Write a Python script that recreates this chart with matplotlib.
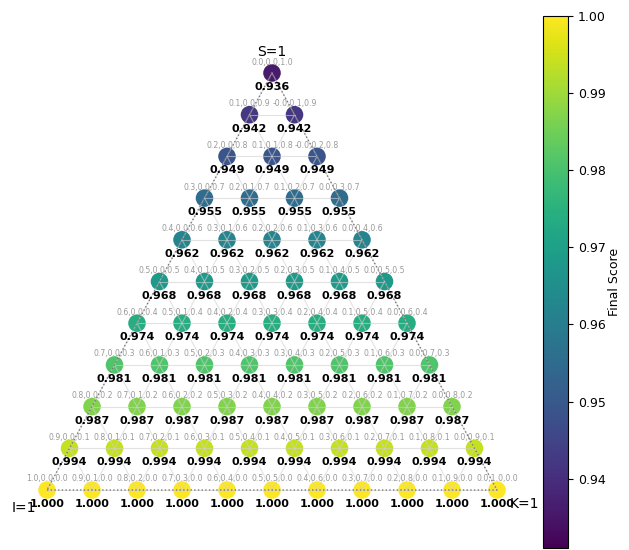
import numpy as np
import matplotlib
matplotlib.use("Agg")
import matplotlib.pyplot as plt
from matplotlib.colors import Normalize

# S weight per row (top to bottom) and the final score reached on that row
s_levels = [1.0, 0.9, 0.8, 0.7, 0.6, 0.5, 0.4, 0.3, 0.2, 0.1, 0.0]
row_scores = [0.936, 0.942, 0.949, 0.955, 0.962, 0.968, 0.974, 0.981, 0.987, 0.994, 1.000]
corner_labels = ["I=1", "K=1", "S=1"]
cbar_ticks = [0.94, 0.95, 0.96, 0.97, 0.98, 0.99, 1.00]
cbar_range = (0.931, 1.0)

H = np.sqrt(3) / 2
PX = 450.0      # pixels per unit along x
PY = 481.5      # pixels per unit along y


def to_xy(i, k, s):
    return k + s / 2.0, s * H


# build the simplex grid (I, K, S) with 0.1 steps
pts = []
for row, s in enumerate(s_levels):
    n = int(round((1 - s) * 10))
    for j in range(n + 1):
        k = j / 10.0
        i = round(1 - s - k, 1)
        pts.append((i, k, s, row_scores[row]))

fig = plt.figure(figsize=(6.29, 5.5), dpi=100)
ax = fig.add_axes([0, 0, 530 / 629, 1])
ax.set_xlim(-47 / PX, (530 - 47) / PX)
ax.set_ylim((490 - 550) / PY, 490 / PY)
ax.axis("off")

norm = Normalize(*cbar_range)
cmap = plt.get_cmap("viridis")

# light triangular grid lines
grid_kw = dict(color="#d0d0d0", lw=0.8, alpha=0.6, zorder=3)
for t in np.round(np.arange(0, 1.01, 0.1), 1):
    # constant S
    x0, y0 = to_xy(1 - t, 0, t)
    x1, y1 = to_xy(0, 1 - t, t)
    ax.plot([x0, x1], [y0, y1], **grid_kw)
    # constant K
    x0, y0 = to_xy(1 - t, t, 0)
    x1, y1 = to_xy(0, t, 1 - t)
    ax.plot([x0, x1], [y0, y1], **grid_kw)
    # constant I
    x0, y0 = to_xy(t, 1 - t, 0)
    x1, y1 = to_xy(t, 0, 1 - t)
    ax.plot([x0, x1], [y0, y1], **grid_kw)

xs = [to_xy(i, k, s)[0] for i, k, s, _ in pts]
ys = [to_xy(i, k, s)[1] for i, k, s, _ in pts]
cs = [v for *_, v in pts]
sc = ax.scatter(xs, ys, c=cs, cmap=cmap, norm=norm, s=160, zorder=2,
                edgecolors="none")

# dotted triangle outline
corners = [to_xy(1, 0, 0), to_xy(0, 1, 0), to_xy(0, 0, 1), to_xy(1, 0, 0)]
ax.plot([c[0] for c in corners], [c[1] for c in corners], ls=":",
        color="#777777", lw=1.0, zorder=4)

for (i, k, s, v), x, y in zip(pts, xs, ys):
    ax.text(x, y + 11 / PY, f"{i:.1f},{k:.1f},{s:.1f}", ha="center",
            va="center", fontsize=5.6, color="#999999", zorder=5)
    ax.text(x, y - 14 / PY, f"{v:.3f}", ha="center", va="center",
            fontsize=8, fontweight="bold", color="black", zorder=5)

ax.text(-23 / PX, -18 / PY, corner_labels[0], ha="center", va="center",
        fontsize=10)
ax.text(1 + 27 / PX, -14 / PY, corner_labels[1], ha="center",
        va="center", fontsize=10)
ax.text(0.5, H + 21 / PY, corner_labels[2], ha="center", va="center",
        fontsize=10)

cax = fig.add_axes([543 / 629, 2 / 550, 25 / 629, 532 / 550])
cb = fig.colorbar(sc, cax=cax)
cb.set_ticks(cbar_ticks)
cb.set_ticklabels([f"{t:.2f}" for t in cbar_ticks])
cb.ax.tick_params(labelsize=9)
cb.set_label("Final Score", fontsize=9, labelpad=2)

fig.savefig("out.png", dpi=100)
